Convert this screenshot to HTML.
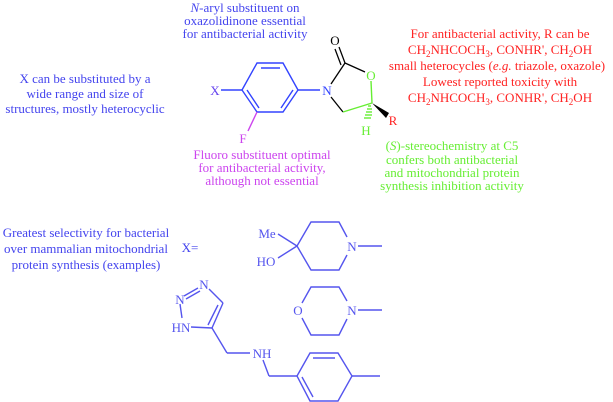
<!DOCTYPE html>
<html><head><meta charset="utf-8"><style>
html,body{margin:0;padding:0;background:#fff;width:613px;height:402px;overflow:hidden;}
#w{position:relative;width:613px;height:402px;}
svg{position:absolute;left:0;top:0;display:block;}
.t{position:absolute;white-space:nowrap;font-family:"Liberation Serif",serif;font-size:13px;line-height:13px;transform:translateX(-50%);}
.b{color:#4444ee}.r{color:#ff2222}.g{color:#66ee33}.p{color:#cc44ee}.k{color:#000}.v{color:#5555ee}
sub{font-size:9px;line-height:0;vertical-align:-3px;}
</style></head><body><div id="w">
<svg width="613" height="402" viewBox="0 0 613 402" xmlns="http://www.w3.org/2000/svg">
<g stroke="#3344ff" stroke-width="1.4" fill="none">
<polygon points="242,90 257,63 283,63 298,90 283,112 257,112"/>
<line x1="261" y1="68" x2="280" y2="68"/>
<line x1="293" y1="90" x2="281" y2="108"/>
<line x1="247" y1="90" x2="259" y2="108"/>
<line x1="221" y1="90" x2="242" y2="90"/>
<line x1="298" y1="90" x2="320" y2="90"/>
</g>
<line x1="257" y1="112" x2="248" y2="131" stroke="#cc44ee" stroke-width="1.4"/>
<g stroke="#000" stroke-width="1.3" fill="none">
<line x1="331" y1="84" x2="345" y2="63"/>
<line x1="345" y1="63" x2="365" y2="72"/>
<line x1="345" y1="63" x2="339" y2="47"/>
<line x1="341" y1="65" x2="335" y2="49"/>
<line x1="331" y1="97" x2="343" y2="112"/>
</g>
<g stroke="#66ee33" stroke-width="1.4" fill="none">
<line x1="371" y1="81" x2="372" y2="103"/>
<line x1="343" y1="112" x2="372" y2="103"/>
<line x1="368" y1="106" x2="371" y2="106"/>
<line x1="367" y1="109" x2="372" y2="109"/>
<line x1="366" y1="112" x2="372" y2="112"/>
<line x1="365" y1="115" x2="372" y2="115"/>
<line x1="364" y1="118" x2="371" y2="118"/>
</g>
<polygon points="372,103 389,113 386,118" fill="#000"/>
<g stroke="#5555ee" stroke-width="1.4" fill="none">
<polyline points="347,237 339,222 311,222 297,246 311,270 339,270 347,255"/>
<line x1="358" y1="246" x2="382" y2="246"/>
<line x1="297" y1="246" x2="278" y2="234"/>
<line x1="297" y1="246" x2="278" y2="258"/>
<polyline points="347,301 339,287 311,287 302,303"/>
<polyline points="347,319 339,335 311,335 302,318"/>
<line x1="358" y1="310" x2="382" y2="310"/>
<line x1="209" y1="289" x2="223" y2="303"/>
<line x1="223" y1="303" x2="212" y2="328"/>
<line x1="218" y1="305" x2="208" y2="325"/>
<line x1="184" y1="296" x2="198" y2="288"/>
<line x1="186" y1="299" x2="200" y2="291"/>
<line x1="180" y1="304" x2="182" y2="318"/>
<line x1="191" y1="327" x2="212" y2="328"/>
<line x1="212" y1="328" x2="227" y2="353"/>
<line x1="227" y1="353" x2="250" y2="353"/>
<line x1="263" y1="360" x2="269" y2="376"/>
<line x1="269" y1="376" x2="297" y2="376"/>
<polygon points="297,376 310,353 338,353 352,376 338,401 310,401"/>
<line x1="313" y1="358" x2="335" y2="358"/>
<line x1="302" y1="377" x2="313" y2="397"/>
<line x1="352" y1="376" x2="380" y2="376"/>
</g>
</svg>
<div class="t b" style="left:245px;top:1px"><i>N</i>-aryl substituent on</div>
<div class="t b" style="left:245px;top:14px">oxazolidinone essential</div>
<div class="t b" style="left:245px;top:27px">for antibacterial activity</div>
<div class="t b" style="left:85px;top:72px">X can be substituted by a</div>
<div class="t b" style="left:85px;top:87px">wide range and size of</div>
<div class="t b" style="left:85px;top:102px">structures, mostly heterocyclic</div>
<div class="t b" style="left:86px;top:226px">Greatest selectivity for bacterial</div>
<div class="t b" style="left:86px;top:242px">over mammalian mitochondrial</div>
<div class="t b" style="left:86px;top:258px">protein synthesis (examples)</div>
<div class="t b" style="left:190px;top:241px">X=</div>
<div class="t r" style="left:500px;top:27px">For antibacterial activity, R can be</div>
<div class="t r" style="left:500px;top:43px">CH<sub>2</sub>NHCOCH<sub>3</sub>, CONHR', CH<sub>2</sub>OH</div>
<div class="t r" style="left:497px;top:59px">small heterocycles (<i>e.g.</i> triazole, oxazole)</div>
<div class="t r" style="left:500px;top:75px">Lowest reported toxicity with</div>
<div class="t r" style="left:500px;top:91px">CH<sub>2</sub>NHCOCH<sub>3</sub>, CONHR', CH<sub>2</sub>OH</div>
<div class="t g" style="left:452px;top:139px">(<i>S</i>)-stereochemistry at C5</div>
<div class="t g" style="left:452px;top:153px">confers both antibacterial</div>
<div class="t g" style="left:452px;top:166px">and mitochondrial protein</div>
<div class="t g" style="left:452px;top:179px">synthesis inhibition activity</div>
<div class="t p" style="left:262px;top:148px">Fluoro substituent optimal</div>
<div class="t p" style="left:262px;top:161px">for antibacterial activity,</div>
<div class="t p" style="left:262px;top:174px">although not essential</div>
<div class="t" style="left:215px;top:84px;color:#6644ee">X</div>
<div class="t" style="left:327px;top:84px;color:#3344ff">N</div>
<div class="t p" style="left:243px;top:132px">F</div>
<div class="t k" style="left:335px;top:34px">O</div>
<div class="t g" style="left:371px;top:69px">O</div>
<div class="t g" style="left:366px;top:124px">H</div>
<div class="t r" style="left:393px;top:114px">R</div>
<div class="t v" style="left:352px;top:240px">N</div>
<div class="t v" style="left:352px;top:304px">N</div>
<div class="t v" style="left:298px;top:304px">O</div>
<div class="t v" style="left:267px;top:227px">Me</div>
<div class="t v" style="left:266px;top:255px">HO</div>
<div class="t v" style="left:204px;top:278px">N</div>
<div class="t v" style="left:180px;top:293px">N</div>
<div class="t v" style="left:181px;top:321px">HN</div>
<div class="t v" style="left:262px;top:347px">NH</div>
</div></body></html>
